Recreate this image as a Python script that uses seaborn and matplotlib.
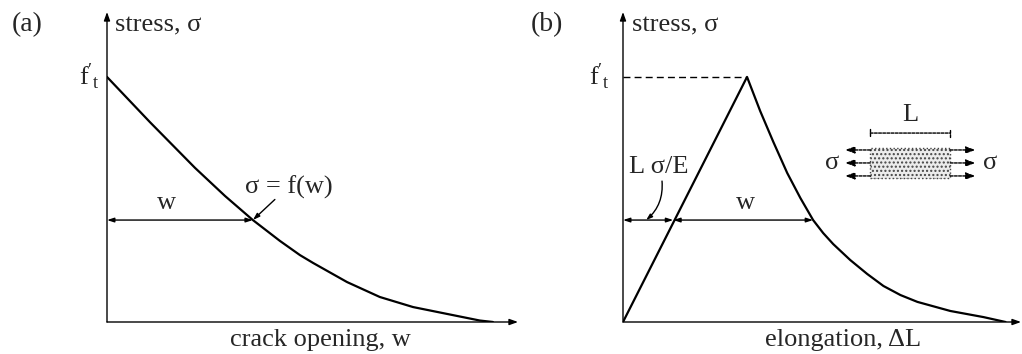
import numpy as np
import pandas as pd
import matplotlib
matplotlib.use("Agg")
import matplotlib.pyplot as plt
import seaborn as sns
from matplotlib.patches import Rectangle

# softening curve, panel (a): crack opening w vs stress
crack_w = [0.0, 0.111, 0.228, 0.306, 0.378, 0.448, 0.500, 0.534, 0.622, 0.707, 0.793, 0.881, 0.966, 1.0]
crack_sigma = [1.0, 0.816, 0.629, 0.514, 0.416, 0.331, 0.273, 0.241, 0.163, 0.102, 0.061, 0.033, 0.006, 0.0]

# panel (b): elongation vs stress (linear rise, then softening)
elong_dl = [0.0, 0.321, 0.355, 0.389, 0.425, 0.459, 0.492, 0.518, 0.544, 0.588, 0.632, 0.674,
            0.718, 0.762, 0.847, 0.933, 0.990]
elong_sigma = [0.0, 1.0, 0.861, 0.735, 0.608, 0.506, 0.416, 0.363, 0.318, 0.253, 0.196, 0.147,
               0.110, 0.082, 0.045, 0.020, 0.0]

ft = 1.0            # tensile strength level
sigma_level = 0.416 # stress level where w is marked
w_at_level_a = 0.378
elastic_at_level = 0.13
w_end_b = 0.492

panel_labels = ["(a)", "(b)"]
y_label = "stress, σ"
x_labels = ["crack opening, w", "elongation, ΔL"]

sns.set_style("white")
plt.rcParams['font.family'] = ['Liberation Serif', 'DejaVu Serif']
plt.rcParams['mathtext.fontset'] = 'custom'
plt.rcParams['mathtext.rm'] = 'Liberation Serif'
plt.rcParams['mathtext.it'] = 'Liberation Serif'

FS = 19
W, H = 1022, 354
fig = plt.figure(figsize=(W / 100, H / 100), dpi=100)

ax_a = fig.add_axes([107 / W, 32 / H, (518 - 107) / W, 310 / H])
ax_b = fig.add_axes([623 / W, 32 / H, (1021 - 623) / W, 310 / H])


def axis_arrows(ax, xmax, ymax):
    for s in ax.spines.values():
        s.set_visible(False)
    ax.set_xticks([])
    ax.set_yticks([])
    ax.set_xlim(0, xmax)
    ax.set_ylim(0, ymax)
    for tip in [(xmax, 0), (0, ymax)]:
        ax.annotate("", xy=tip, xytext=(0, 0), annotation_clip=False,
                    arrowprops=dict(arrowstyle="-|>,head_length=0.5,head_width=0.18", color="k", lw=1.0,
                                    shrinkA=0, shrinkB=0))


def dim_line(ax, x0, x1, y):
    ax.annotate("", xy=(x1, y), xytext=(x0, y), annotation_clip=False,
                arrowprops=dict(arrowstyle="<|-|>,head_length=0.4,head_width=0.13", color="k", lw=1.0,
                                shrinkA=0, shrinkB=0))


# ---- panel (a)
axis_arrows(ax_a, 1.065, 1.265)
df_a = pd.DataFrame({"w": crack_w, "sigma": crack_sigma})
sns.lineplot(data=df_a, x="w", y="sigma", ax=ax_a, color="k", lw=1.6, sort=False,
             solid_joinstyle="round")
ax_a.set_xlabel("")
ax_a.set_ylabel("")
dim_line(ax_a, 0, w_at_level_a, sigma_level)
ax_a.text(0.155, 0.44, "w", fontsize=FS, ha="center", va="bottom")
ax_a.text(0.472, 0.551, "σ = f(w)", fontsize=FS, ha="center", va="center")
ax_a.annotate("", xy=(w_at_level_a, sigma_level), xytext=(0.435, 0.50),
              arrowprops=dict(arrowstyle="-|>,head_length=0.4,head_width=0.13", color="k", lw=1.0,
                              shrinkA=0, shrinkB=0))
ax_a.text(0.021, 1.212, y_label, fontsize=FS, ha="left", va="center")
ax_a.text(-0.018, ft, r"$\mathrm{f}'_{\mathrm{t}}$", fontsize=FS, ha="right", va="center")
ax_a.text(0.554, -0.073, x_labels[0], fontsize=FS, ha="center", va="center")

# ---- panel (b)
axis_arrows(ax_b, 1.03, 1.265)
df_b = pd.DataFrame({"dl": elong_dl, "sigma": elong_sigma})
sns.lineplot(data=df_b, x="dl", y="sigma", ax=ax_b, color="k", lw=1.6, sort=False,
             solid_joinstyle="round")
ax_b.set_xlabel("")
ax_b.set_ylabel("")
ax_b.plot([0, elong_dl[1]], [ft, ft], color="k", lw=1.0, ls=(0, (5, 3)))
dim_line(ax_b, 0, elastic_at_level, sigma_level)
dim_line(ax_b, elastic_at_level, w_end_b, sigma_level)
ax_b.text(0.316, 0.44, "w", fontsize=FS, ha="center", va="bottom")
ax_b.text(0.093, 0.633, "L σ/E", fontsize=FS, ha="center", va="center")
ax_b.annotate("", xy=(0.060, sigma_level), xytext=(0.101, 0.575),
              arrowprops=dict(arrowstyle="-|>,head_length=0.35,head_width=0.12", color="k", lw=1.0,
                              connectionstyle="arc3,rad=-0.25", shrinkA=0, shrinkB=0))
ax_b.text(0.023, 1.212, y_label, fontsize=FS, ha="left", va="center")
ax_b.text(-0.034, ft, r"$\mathrm{f}'_{\mathrm{t}}$", fontsize=FS, ha="right", va="center")
ax_b.text(0.57, -0.073, x_labels[1], fontsize=FS, ha="center", va="center")

# specimen sketch
box_x0, box_x1, box_y0, box_y1 = 0.64, 0.847, 0.588, 0.710
ax_b.add_patch(Rectangle((box_x0, box_y0), box_x1 - box_x0, box_y1 - box_y0,
                         facecolor="#ececec", edgecolor="#444444", lw=1.0, ls=":", hatch="....",
                         zorder=2))
ax_b.annotate("", xy=(box_x1, 0.771), xytext=(box_x0, 0.771),
              arrowprops=dict(arrowstyle="|-|,widthA=0.3,widthB=0.3", color="k", lw=1.0, ls=(0, (2, 1)),
                              shrinkA=0, shrinkB=0))
ax_b.text(0.744, 0.80, "L", fontsize=FS, ha="center", va="bottom")
for yy in [0.702, 0.649, 0.596]:
    ax_b.annotate("", xy=(0.575, yy), xytext=(box_x0, yy),
                  arrowprops=dict(arrowstyle="-|>,head_length=0.55,head_width=0.2", color="k", lw=1.0,
                                  ls=(0, (2, 1)), shrinkA=0, shrinkB=0))
    ax_b.annotate("", xy=(0.912, yy), xytext=(box_x1, yy),
                  arrowprops=dict(arrowstyle="-|>,head_length=0.55,head_width=0.2", color="k", lw=1.0,
                                  ls=(0, (2, 1)), shrinkA=0, shrinkB=0))
ax_b.text(0.541, 0.649, "σ", fontsize=FS, ha="center", va="center")
ax_b.text(0.951, 0.649, "σ", fontsize=FS, ha="center", va="center")

fig.text(27 / W, 1 - 25 / H, panel_labels[0], fontsize=FS + 1, ha="center", va="center")
fig.text(547 / W, 1 - 25 / H, panel_labels[1], fontsize=FS + 1, ha="center", va="center")

fig.savefig("out.png", dpi=100, facecolor="white")
